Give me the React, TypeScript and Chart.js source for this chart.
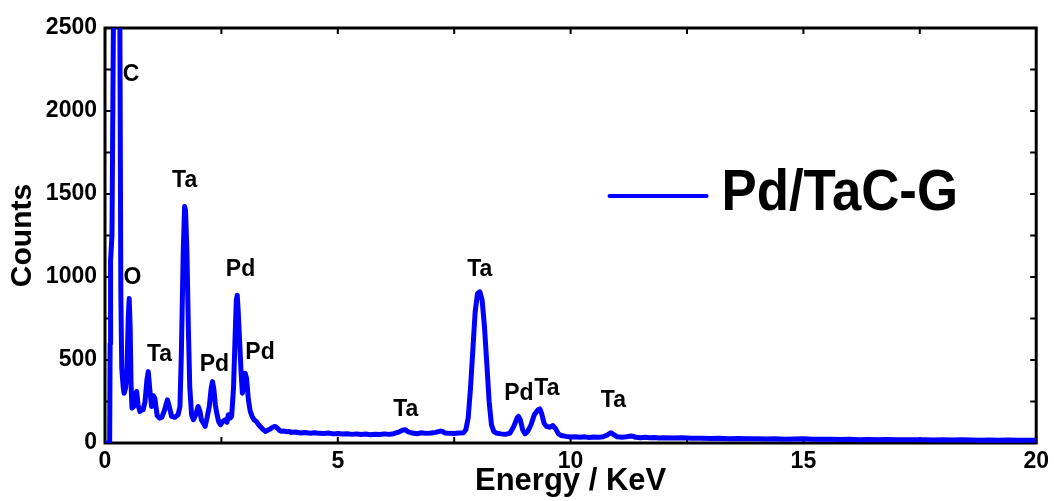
import React, { useEffect, useRef } from 'react';
import { Chart, registerables } from 'chart.js';

Chart.register(...registerables);

// ---- data ----
const energyKeV = [
  0, 0.1, 0.11, 0.12, 0.15, 0.18, 0.21, 0.25, 0.29, 0.32, 0.34, 0.36, 0.39, 0.41, 0.44, 0.47, 0.5, 0.52, 0.54, 0.56,
  0.58, 0.62, 0.66, 0.68, 0.71, 0.75, 0.79, 0.82, 0.86, 0.9, 0.93, 0.96, 1.0, 1.04, 1.07, 1.12, 1.17, 1.22, 1.28, 1.34,
  1.38, 1.43, 1.5, 1.57, 1.61, 1.64, 1.68, 1.71, 1.73, 1.76, 1.79, 1.82, 1.86, 1.9, 1.95, 2.0, 2.04, 2.07, 2.11, 2.15,
  2.19, 2.24, 2.28, 2.31, 2.34, 2.37, 2.4, 2.44, 2.48, 2.53, 2.58, 2.62, 2.65, 2.69, 2.72, 2.76, 2.79, 2.82, 2.84, 2.86,
  2.89, 2.92, 2.95, 2.98, 3.01, 3.04, 3.08, 3.12, 3.16, 3.2, 3.25, 3.3, 3.35, 3.4, 3.45, 3.5, 3.55, 3.6, 3.65, 3.7,
  3.75, 3.8, 3.85, 3.9, 3.95, 4.0, 4.1, 4.2, 4.3, 4.4, 4.5, 4.6, 4.7, 4.8, 4.9, 5.0, 5.1, 5.2, 5.3, 5.4,
  5.5, 5.6, 5.7, 5.8, 5.9, 6.0, 6.1, 6.2, 6.3, 6.4, 6.45, 6.5, 6.6, 6.7, 6.8, 6.9, 7.0, 7.1, 7.2, 7.25,
  7.3, 7.4, 7.5, 7.6, 7.7, 7.75, 7.8, 7.85, 7.9, 7.95, 8.0, 8.05, 8.1, 8.15, 8.2, 8.25, 8.3, 8.35, 8.4, 8.5,
  8.6, 8.7, 8.78, 8.85, 8.88, 8.92, 8.97, 9.02, 9.08, 9.15, 9.22, 9.3, 9.34, 9.38, 9.43, 9.48, 9.55, 9.62, 9.68, 9.74,
  9.8, 9.9, 10.0, 10.1, 10.2, 10.3, 10.4, 10.5, 10.6, 10.7, 10.8, 10.87, 10.93, 11.0, 11.1, 11.2, 11.3, 11.35, 11.4, 11.5,
  11.6, 11.7, 11.8, 11.9, 12.0, 12.2, 12.4, 12.6, 12.8, 13.0, 13.2, 13.4, 13.6, 13.8, 14.0, 14.2, 14.4, 14.6, 14.8, 15.0,
  15.2, 15.4, 15.6, 15.8, 16.0, 16.2, 16.4, 16.6, 16.8, 17.0, 17.2, 17.4, 17.6, 17.8, 18.0, 18.2, 18.4, 18.6, 18.8, 19.0,
  19.2, 19.4, 19.6, 19.8, 20.0,
];

const counts = [
  0, 0, 600, 1100, 1250, 2500, 4200, 5000, 4200, 2500, 900, 450, 340, 300, 330, 420, 760, 870, 700, 350,
  210, 220, 300, 310, 230, 190, 205, 200, 250, 380, 430, 330, 220, 285, 270, 165, 150, 155, 200, 260,
  220, 160, 155, 170, 220, 540, 1150, 1424, 1400, 1150, 700, 340, 170, 140, 170, 220, 190, 140, 120, 100,
  150, 220, 330, 370, 320, 230, 180, 130, 110, 130, 140, 125, 170, 150, 160, 330, 600, 860, 890, 800,
  620, 440, 300, 360, 420, 390, 260, 190, 160, 140, 130, 110, 95, 80, 70, 78, 85, 95, 100, 90,
  75, 70, 72, 68, 70, 64, 66, 60, 63, 59, 62, 58, 57, 60, 55, 57, 54, 56, 52, 55,
  51, 54, 50, 53, 51, 55, 52, 56, 65, 78, 80, 68, 60, 56, 62, 58, 60, 64, 72, 70,
  60, 58, 57, 60, 62, 80, 150, 330, 560, 790, 900, 911, 860, 700, 480, 250, 110, 70, 60, 55,
  52, 60, 100, 150, 160, 140, 80, 55, 70, 110, 170, 200, 205, 175, 120, 100, 95, 105, 85, 55,
  45, 40, 36, 38, 35, 37, 33, 36, 34, 38, 50, 62, 50, 37, 35, 38, 42, 40, 34, 32,
  34, 31, 33, 30, 32, 30, 31, 28, 29, 27, 28, 26, 27, 25, 26, 24, 25, 23, 24, 25,
  22, 23, 22, 21, 22, 20, 21, 20, 21, 19, 20, 19, 20, 18, 19, 18, 20, 18, 17, 18,
  17, 18, 16, 17, 16,
];

const xTickValues = [0, 5, 10, 15, 20];
const yTickValues = [0, 500, 1000, 1500, 2000, 2500];
const minorXTicks = [2.5, 7.5, 12.5, 17.5];
const minorYTicks = [250, 750, 1250, 1750, 2250];

const peakLabels = ['C', 'O', 'Ta', 'Ta', 'Pd', 'Pd', 'Pd', 'Ta', 'Ta', 'Pd', 'Ta', 'Ta'];
const peakLabelEnergy = [0.56, 0.59, 1.71, 1.17, 2.35, 2.91, 3.33, 6.46, 8.05, 8.89, 9.49, 10.92];
const peakLabelCounts = [2217, 997, 1578, 530, 470, 1042, 542, 199, 1042, 299, 329, 253];

const seriesName = 'Pd/TaC-G';
const xTitle = 'Energy / KeV';
const yTitle = 'Counts';

const FONT = "'Liberation Sans', Arial, sans-serif";
const BLUE = '#0000ff';

const framePlugin = {
  id: 'frameAndTicks',
  beforeDatasetsDraw(chart: any) {
    const { ctx, chartArea } = chart;
    const { left, right, top, bottom } = chartArea;
    const xs = chart.scales.x;
    const ys = chart.scales.y;
    ctx.save();
    ctx.strokeStyle = '#000';
    ctx.lineWidth = 2;
    const tl = 6;
    const xt = [...xTickValues, ...minorXTicks];
    const yt = [...yTickValues, ...minorYTicks];
    ctx.beginPath();
    xt.forEach((v) => {
      const px = xs.getPixelForValue(v);
      ctx.moveTo(px, bottom);
      ctx.lineTo(px, bottom - tl);
      ctx.moveTo(px, top);
      ctx.lineTo(px, top + tl);
    });
    yt.forEach((v) => {
      const py = ys.getPixelForValue(v);
      ctx.moveTo(left, py);
      ctx.lineTo(left + tl, py);
      ctx.moveTo(right, py);
      ctx.lineTo(right - tl, py);
    });
    ctx.stroke();
    ctx.lineWidth = 3;
    ctx.strokeRect(left, top, right - left, bottom - top);
    ctx.restore();
  },
  afterDatasetsDraw(chart: any) {
    const { ctx, chartArea } = chart;
    const xs = chart.scales.x;
    const ys = chart.scales.y;
    ctx.save();
    ctx.fillStyle = '#000';
    ctx.font = `bold 23px ${FONT}`;
    ctx.textAlign = 'center';
    ctx.textBaseline = 'middle';
    peakLabels.forEach((t, i) => {
      ctx.fillText(t, xs.getPixelForValue(peakLabelEnergy[i]), ys.getPixelForValue(peakLabelCounts[i]));
    });
    // legend
    const w = chartArea.right - chartArea.left;
    const h = chartArea.bottom - chartArea.top;
    const lx0 = chartArea.left + 0.5418 * w;
    const lx1 = chartArea.left + 0.646 * w;
    const ly = chartArea.top + 0.405 * h;
    ctx.strokeStyle = BLUE;
    ctx.lineWidth = 4;
    ctx.lineCap = 'round';
    ctx.beginPath();
    ctx.moveTo(lx0, ly);
    ctx.lineTo(lx1, ly);
    ctx.stroke();
    const tx = chartArea.left + 0.662 * w;
    const ty = chartArea.top + 0.4386 * h;
    ctx.font = `bold 58px ${FONT}`;
    ctx.textAlign = 'left';
    ctx.textBaseline = 'alphabetic';
    ctx.translate(tx, ty);
    ctx.scale(0.91, 1);
    ctx.fillText(seriesName, 0, 0);
    ctx.restore();
  },
};

export default function App() {
  const ref = useRef<HTMLCanvasElement>(null);
  useEffect(() => {
    document.body.style.margin = '0';
    const canvas = ref.current;
    if (!canvas) return;
    const points = energyKeV.map((e, i) => ({ x: e, y: counts[i] }));
    const chart = new Chart(canvas, {
      type: 'line',
      data: {
        datasets: [
          {
            label: seriesName,
            data: points,
            borderColor: BLUE,
            backgroundColor: BLUE,
            borderWidth: 5,
            pointRadius: 0,
            tension: 0,
            borderJoinStyle: 'round',
            borderCapStyle: 'round',
            fill: false,
          },
        ],
      },
      options: {
        responsive: false,
        animation: false,
        devicePixelRatio: 1,
        layout: { padding: { left: 0, top: 28, right: 17, bottom: 0 } },
        plugins: {
          legend: { display: false },
          tooltip: { enabled: false },
        },
        scales: {
          x: {
            type: 'linear',
            min: 0,
            max: 20,
            afterBuildTicks: (scale: any) => {
              scale.ticks = xTickValues.map((v) => ({ value: v }));
            },
            afterFit: (scale: any) => {
              scale.height = 58;
            },
            grid: { display: false, drawTicks: false },
            border: { display: false },
            ticks: {
              padding: 5,
              color: '#000',
              font: { family: FONT, weight: 'bold', size: 23 },
              maxRotation: 0,
              callback: (v: any) => String(v),
            },
            title: {
              display: true,
              text: xTitle,
              color: '#000',
              font: { family: FONT, weight: 'bold', size: 31 },
              padding: { top: 0, bottom: 1 },
            },
          },
          y: {
            type: 'linear',
            min: 0,
            max: 2500,
            afterBuildTicks: (scale: any) => {
              scale.ticks = yTickValues.map((v) => ({ value: v }));
            },
            afterFit: (scale: any) => {
              scale.width = 105;
            },
            grid: { display: false, drawTicks: false },
            border: { display: false },
            ticks: {
              padding: 8,
              color: '#000',
              font: { family: FONT, weight: 'bold', size: 23 },
              callback: (v: any) => String(v),
            },
            title: {
              display: true,
              text: yTitle,
              color: '#000',
              font: { family: FONT, weight: 'bold', size: 30 },
              padding: { top: 5, bottom: 0 },
            },
          },
        },
      },
      plugins: [framePlugin],
    } as any);
    return () => chart.destroy();
  }, []);
  return (
    <div style={{ width: 1054, height: 501 }}>
      <canvas ref={ref} width={1054} height={501} style={{ display: 'block' }} />
    </div>
  );
}
